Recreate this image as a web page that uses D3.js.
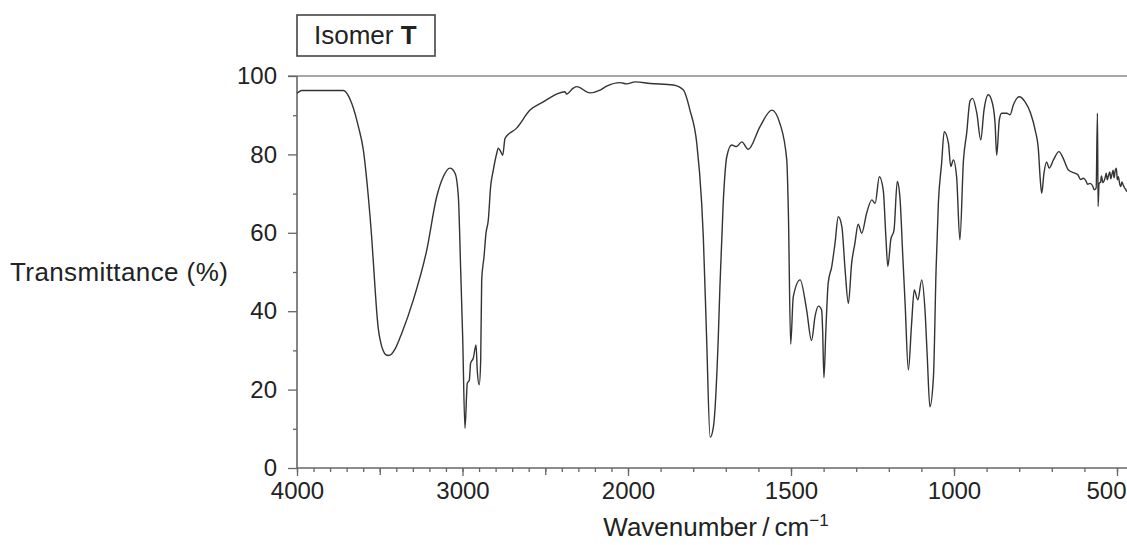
<!DOCTYPE html>
<html><head><meta charset="utf-8">
<script src="https://cdn.jsdelivr.net/npm/d3@7"></script>
<style>
body{margin:0;background:#fff}
svg text{font-family:"Liberation Sans",Arial,Helvetica,sans-serif;fill:#222}
</style>
</head><body>
<svg id="chart" width="1127" height="545"></svg>
<script>
// Wavenumber (cm^-1) and transmittance (%)
const wavenumbers = [
 4000,3972,3720,3669,3629,3599,3569,3549,3529,3519,3509,3494,3479,3464,3448,3428,3408,3367,3297,3216,3156,3116,3076,3045,
 3025,3011,2999,2985,2971,2959,2951,2935,2918,2911,2899,2890,2884,2870,2858,2844,2830,2814,2793,2784,
 2769,2757,2743,2673,2592,2512,2431,2381,2371,2331,2310,2230,2169,2129,2048,2008,1978,1932,1861,1830,
 1810,1789,1774,1769,1759,1748,1738,1723,1718,1708,1697,1682,1667,1651,1631,1595,1559,1534,1513,1508,
 1501,1493,1472,1452,1437,1426,1416,1406,1403,1399,1393,1386,1375,1365,1355,1344,1334,1324,1314,1304,
 1294,1283,1268,1252,1242,1229,1217,1209,1203,1194,1184,1174,1166,1157,1150,1140,1130,1122,1111,1099,
 1089,1082,1074,1063,1055,1048,1038,1030,1017,1010,1002,992,982,971,961,951,943,930,918,908,
 895,882,874,869,861,854,838,828,818,800,782,765,751,741,736,731,724,716,708,695,
 678,665,649,629,620,612,603,595,590,583,575,570,564,560,558,555,550,548,543,537,
 533,530,527,522,519,516,512,509,506,502,499,496,491,488,485,481,477,473,470
];
const transmittance = [
 95.6,96.3,96.3,93.0,87.1,81.1,69.2,59.0,46.3,40.2,35.6,32.0,29.9,28.9,28.7,29.1,30.3,34.4,42.9,55.6,69.2,74.3,76.5,75.2,
 69.2,50.5,33.5,10.1,21.6,22.4,26.7,28.0,31.4,25.0,21.2,27.6,48.0,53.9,59.9,63.3,71.8,76.0,80.3,81.6,
 80.7,79.8,84.1,86.7,91.3,93.4,95.4,96.0,95.4,96.9,97.3,95.7,96.4,97.4,98.3,98.0,98.5,98.1,97.7,96.4,
 91.3,82.8,67.5,59.0,33.5,7.8,10.5,33.5,46.3,67.5,79.4,82.4,82.0,83.2,81.3,87.1,91.3,87.9,78.6,65.0,
 31.6,43.7,48.0,40.3,32.5,38.8,41.3,40.3,35.2,23.0,35.2,47.1,51.4,57.3,64.1,61.6,50.5,42.0,52.2,57.3,
 62.2,59.9,65.0,68.4,67.5,74.3,70.9,59.0,51.4,58.2,60.7,73.1,69.2,53.9,42.0,25.0,36.9,45.4,42.9,48.0,
 40.3,28.4,15.6,23.3,50.5,67.5,77.7,85.8,82.8,76.9,78.6,74.3,58.2,78.5,85.5,93.6,94.3,90.5,83.7,91.3,
 95.2,93.0,87.9,79.8,88.8,90.5,90.5,90.1,92.6,94.7,93.4,90.5,86.2,81.1,74.3,70.1,75.2,78.1,76.5,78.6,
 80.7,79.0,76.0,75.2,74.8,73.6,73.9,73.2,72.4,72.6,72.0,71.0,71.4,90.5,66.7,72.6,73.0,74.5,72.8,73.9,
 75.2,73.5,74.3,75.5,73.8,74.7,76.0,74.0,75.6,76.5,73.5,74.3,72.2,71.8,73.0,72.2,71.5,71.0,70.5
];
const xLabelTicks = [4000, 3000, 2000, 1500, 1000, 500];
const xMidTicks = [3500, 2500];
const xMinorTicks = d3.range(500, 4001, 100);
const yLabelTicks = [0, 20, 40, 60, 80, 100];
const yMinorTicks = [10, 30, 50, 70, 90];

const svg = d3.select("#chart");
const axisColor = "#666";

const x = d3.scaleLinear().domain([4000, 2000, 500]).range([297, 628, 1117]);
const y = d3.scaleLinear().domain([0, 100]).range([468, 76]);

// top 100% line
svg.append("line").attr("x1", 288).attr("x2", 1127).attr("y1", y(100)).attr("y2", y(100))
  .attr("stroke", "#888").attr("stroke-width", 1.6);

function styleAxis(g){
  g.select(".domain").remove();
  g.selectAll(".tick line").attr("stroke", axisColor).attr("stroke-width", 1.3);
  g.selectAll(".tick text").attr("font-size", 24).attr("fill", "#222")
    .attr("font-family", '"Liberation Sans", Arial, sans-serif');
}
svg.append("g").attr("transform", `translate(0,${y(0)})`)
  .call(d3.axisBottom(x).tickValues(xMinorTicks).tickSize(4).tickFormat(""))
  .call(styleAxis);
svg.append("g").attr("transform", `translate(0,${y(0)})`)
  .call(d3.axisBottom(x).tickValues(xMidTicks).tickSize(7).tickFormat(""))
  .call(styleAxis);
const xLab = svg.append("g").attr("transform", `translate(0,${y(0)})`)
  .call(d3.axisBottom(x).tickValues(xLabelTicks).tickSize(8).tickPadding(6).tickFormat(d3.format("d")))
  .call(styleAxis);
// keep the last label inside the picture
xLab.selectAll(".tick text").filter(d => d === 500).attr("text-anchor", "end").attr("dx", 9);

svg.append("g").attr("transform", `translate(297,0)`)
  .call(d3.axisLeft(y).tickValues(yMinorTicks).tickSize(4).tickFormat(""))
  .call(styleAxis);
svg.append("g").attr("transform", `translate(297,0)`)
  .call(d3.axisLeft(y).tickValues(yLabelTicks).tickSize(9).tickPadding(11).tickFormat(d3.format("d")))
  .call(styleAxis);

// axis lines
svg.append("line").attr("x1", 297).attr("x2", 1127).attr("y1", y(0)).attr("y2", y(0))
  .attr("stroke", axisColor).attr("stroke-width", 1.6);
svg.append("line").attr("x1", 297).attr("x2", 297).attr("y1", y(0)).attr("y2", y(100))
  .attr("stroke", axisColor).attr("stroke-width", 1.6);

// spectrum
const data = wavenumbers.map((w, i) => [w, transmittance[i]]);
svg.append("path").datum(data)
  .attr("fill", "none").attr("stroke", "#333").attr("stroke-width", 1.4)
  .attr("stroke-linejoin", "round")
  .attr("d", d3.line().x(d => x(d[0])).y(d => y(d[1])).curve(d3.curveMonotoneX));

// axis titles
svg.append("text").attr("x", 10).attr("y", 281).attr("font-size", 26).attr("letter-spacing", 0.4)
  .text("Transmittance (%)");
const xt = svg.append("text").attr("x", 716).attr("y", 536).attr("font-size", 26).attr("text-anchor", "middle");
xt.append("tspan").text("Wavenumber\u2009/\u2009cm");
xt.append("tspan").attr("font-size", 17).attr("dy", -10).text("\u22121");

// label box
svg.append("rect").attr("x", 297).attr("y", 15).attr("width", 138).attr("height", 41)
  .attr("fill", "none").attr("stroke", "#444").attr("stroke-width", 1.6);
const lab = svg.append("text").attr("x", 314).attr("y", 44).attr("font-size", 26);
lab.append("tspan").text("Isomer ");
lab.append("tspan").attr("font-weight", "bold").text("T");
</script>
</body></html>
